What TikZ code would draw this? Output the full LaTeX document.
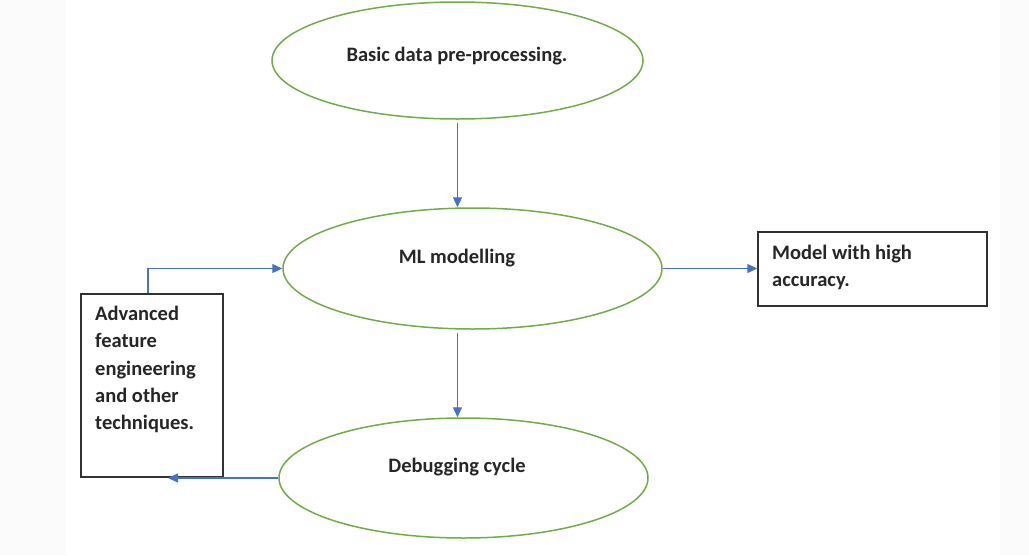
\documentclass[tikz,border=0pt]{standalone}
\usepackage{fontspec}
\setmainfont{Carlito}
\usetikzlibrary{shapes.geometric,arrows.meta,calc}
\definecolor{egreen}{RGB}{112,173,71}
\definecolor{ablue}{RGB}{68,114,196}
\definecolor{bframe}{RGB}{50,50,50}
\begin{document}
\begin{tikzpicture}[x=1pt,y=-1pt,
  oval/.style={draw=egreen,line width=1.5pt,ellipse,inner sep=0pt},
  boxnode/.style={draw=bframe,line width=1.4pt,rectangle,inner sep=0pt},
  lbl/.style={font=\fontsize{20.5}{27.2}\selectfont\bfseries,text=black!85,inner sep=0pt},
  arr/.style={draw=ablue,line width=1.2pt,-{Triangle[length=10pt,width=9pt]}}]
\useasboundingbox (0,0) rectangle (1029,555);
\fill[black!1.5] (0,0) rectangle (66,555);
\fill[black!1.5] (1000,0) rectangle (1029,555);
% ellipses
\node[oval,minimum width=371pt,minimum height=117pt] (top) at (457.5,60.5) {};
\node[oval,minimum width=379pt,minimum height=121pt] (ml) at (472.5,268.5) {};
\node[oval,minimum width=369pt,minimum height=120pt] (dbg) at (463.5,478) {};
\node[lbl] (toptxt) at (457,56) {Basic data pre-processing.};
\node[lbl] (mltxt) at (457,258) {ML modelling};
\node[lbl] (dbgtxt) at (457,467) {Debugging cycle};
% boxes
\node[boxnode,minimum width=229pt,minimum height=74pt] (acc) at (872.5,269) {};
\node[lbl,anchor=base west,align=left] (acctxt) at (772,286.5) {Model with high\\accuracy.};
\node[boxnode,minimum width=142pt,minimum height=183pt] (adv) at (152,385.5) {};
\node[lbl,anchor=base west,align=left] (advtxt) at (95,429.5) {Advanced\\feature\\engineering\\and other\\techniques.};
% connectors
\draw[arr] ([yshift=-3pt]top.south) -- (top.south |- ml.north);
\draw[arr] ($(top.south |- ml.south)+(0,3)$) -- (top.south |- dbg.north);
\draw[arr] (ml.east) -- (acc.west |- ml.east);
\draw[arr] ([xshift=-4pt]adv.north) |- (ml.west);
\draw[arr] (dbg.west) -- ([xshift=16pt]adv.south |- dbg.west);
\end{tikzpicture}
\end{document}
